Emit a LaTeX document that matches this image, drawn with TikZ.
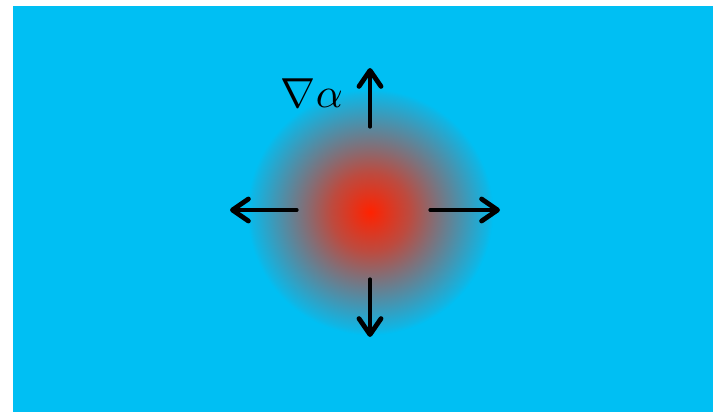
\documentclass[tikz,border=0pt]{standalone}
\usetikzlibrary{arrows.meta}
\definecolor{bgblue}{HTML}{00BFF3}
\definecolor{hotred}{HTML}{FF2200}
\colorlet{glowA}{hotred!74!bgblue}
\colorlet{glowB}{hotred!52!bgblue}
\colorlet{glowC}{hotred!27!bgblue}
\colorlet{glowE}{hotred!6!bgblue}
\pgfdeclareradialshading{glow}{\pgfpoint{0bp}{0bp}}{color(0bp)=(hotred); color(8bp)=(glowA); color(13bp)=(glowB); color(19bp)=(glowC); color(24bp)=(glowE); color(25bp)=(bgblue); color(50bp)=(bgblue)}
\tikzset{
  grad/.style={line width=3.2pt, line cap=round, -{Straight Barb[length=16pt,width=22pt,line width=4.8pt,round]}},
}
\begin{document}
\begin{tikzpicture}[x=1pt,y=-1pt]
\useasboundingbox (0,0) rectangle (713,412);
\fill[bgblue] (13,6) rectangle (713,412);
\shade[shading=glow] (370,212) circle[radius=123];
\coordinate (c) at (370,212);
\coordinate (u0) at (370,127); \coordinate (u1) at (370,68);
\coordinate (d0) at (370,279); \coordinate (d1) at (370,337);
\coordinate (l0) at (297,210); \coordinate (l1) at (230,210);
\coordinate (r0) at (430,210); \coordinate (r1) at (500,210);
\draw[grad] (u0) -- (u1);
\draw[grad] (d0) -- (d1);
\draw[grad] (l0) -- (l1);
\draw[grad] (r0) -- (r1);
\node[anchor=base, inner sep=0pt, scale=4.2] (lab) at (312,107) {$\nabla\alpha$};
\end{tikzpicture}
\end{document}
